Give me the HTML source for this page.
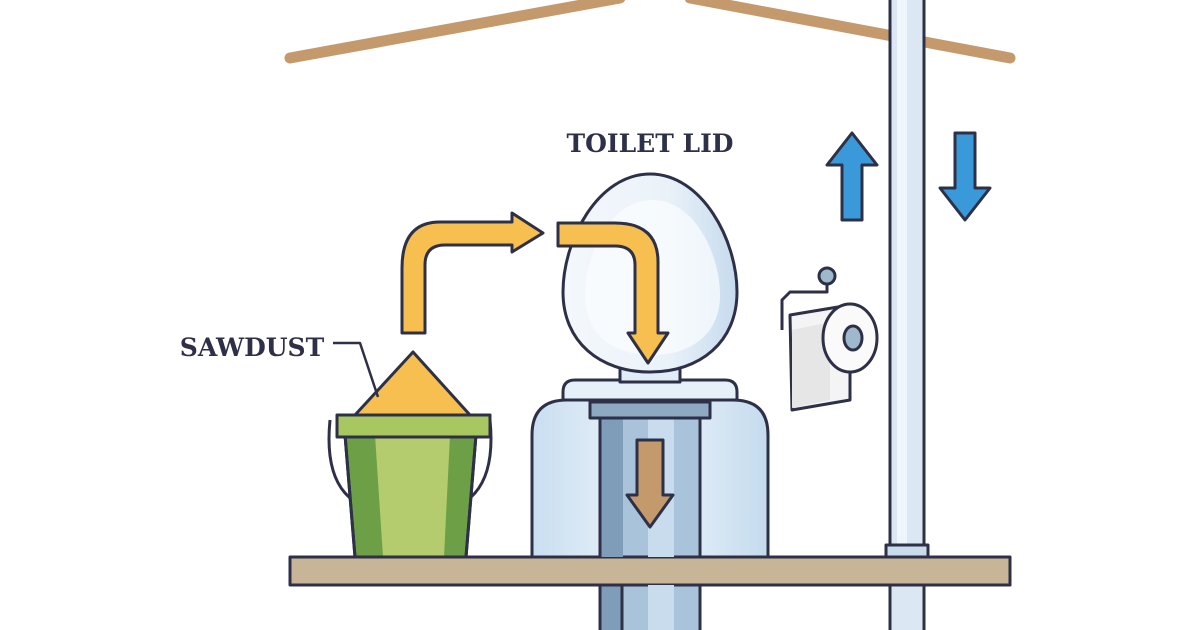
<!DOCTYPE html>
<html><head><style>body{margin:0;background:#fff}svg{display:block}</style></head><body>
<svg width="1200" height="630" viewBox="0 0 1200 630" xmlns="http://www.w3.org/2000/svg">
<defs>
<linearGradient id="ice" x1="0" x2="1"><stop offset="0" stop-color="#c9def0"/><stop offset="0.5" stop-color="#eef5fb"/><stop offset="1" stop-color="#c4dbee"/></linearGradient>
<linearGradient id="lid" x1="0" x2="1"><stop offset="0" stop-color="#f4f8fc"/><stop offset="0.6" stop-color="#eaf2f9"/><stop offset="1" stop-color="#c6dbee"/></linearGradient>
</defs>
<g stroke-linecap="round" stroke="#c49a6c" stroke-width="11" fill="none">
<line x1="290" y1="58" x2="620" y2="-2"/><line x1="690" y1="-2" x2="1010" y2="58"/>
</g>
<g stroke="#2d3047" stroke-width="3" stroke-linejoin="round">
<rect x="890" y="-10" width="34" height="560" fill="#dbe8f3"/>
<rect x="897" y="-10" width="10" height="560" fill="#eef5fb" stroke="none"/>
<rect x="886" y="545" width="42" height="14" fill="#c9dcec"/>
<rect x="890" y="585" width="34" height="50" fill="#dbe8f3"/>
<rect x="290" y="557" width="720" height="28" fill="#c8b597"/>
<path d="M852 133 L877 165 L862 165 L862 220 L842 220 L842 165 L827 165 Z" fill="#3a9ad9"/>
<path d="M965 220 L990 188 L975 188 L975 133 L955 133 L955 188 L940 188 Z" fill="#3a9ad9"/>
<circle cx="827" cy="276" r="8" fill="#9fb8cc"/>
<path d="M827 284 L827 292 L790 292 L782 300 L782 330" fill="none"/>
<path d="M790 315 L850 305 L850 400 L792 410 Z" fill="#f4f4f4"/>
<path d="M792 330 L830 322 L830 400 L792 408 Z" fill="#e6e6e6" stroke="none"/>
<ellipse cx="850" cy="338" rx="27" ry="34" fill="#fafafa"/>
<ellipse cx="853" cy="338" rx="9" ry="12" fill="#9fb8cc"/>
<rect x="600" y="585" width="100" height="50" fill="#a9c3da"/>
<rect x="600" y="585" width="22" height="50" fill="#7f9db8"/>
<rect x="648" y="585" width="26" height="50" fill="#c8dcee" stroke="none"/>
<path d="M532 557 L532 435 Q532 400 567 400 L733 400 Q768 400 768 435 L768 557 Z" fill="url(#ice)"/>
<path d="M563 400 L563 392 Q563 380 575 380 L725 380 Q737 380 737 392 L737 400 Z" fill="#e6f0f8"/>
<rect x="600" y="418" width="100" height="139" fill="#a9c3da"/>
<rect x="600" y="418" width="23" height="139" fill="#7f9db8" stroke="none"/>
<rect x="648" y="418" width="26" height="139" fill="#c8dcee" stroke="none"/>
<line x1="600" y1="418" x2="600" y2="557"/><line x1="700" y1="418" x2="700" y2="557"/>
<rect x="590" y="402" width="120" height="16" fill="#8eaac3"/>
<path d="M650 527 L673 495 L663 495 L663 440 L637 440 L637 495 L627 495 Z" fill="#c49a6c"/>
<rect x="620" y="362" width="60" height="20" fill="#e0ecf6"/>
<path d="M650 174 C702 174 737 240 737 292 C737 342 700 372 650 372 C600 372 563 342 563 292 C563 240 598 174 650 174 Z" fill="url(#lid)"/>
<path d="M652 200 C695 200 720 255 720 295 C720 335 690 355 652 355 C614 355 585 335 585 295 C585 255 610 200 652 200 Z" fill="#fbfdff" stroke="none" opacity="0.7"/>
<path d="M402 333 L402 268 Q402 222 440 222 L512 222 L512 213 L543 233 L512 252 L512 245 L445 245 Q425 245 425 265 L425 333 Z" fill="#f6bf4f"/>
<path d="M558 223 L615 223 Q658 223 658 262 L658 333 L668 333 L648 363 L628 333 L635 333 L635 265 Q635 246 615 246 L558 246 Z" fill="#f6bf4f"/>
<path d="M355 415 L413 352 L470 415 Z" fill="#f6bf4f"/>
<path d="M330 420 Q320 520 410 512 Q500 520 490 420" fill="none"/>
<path d="M345 435 L476 435 L466 557 L355 557 Z" fill="#6da046"/>
<path d="M375 435 L450 435 L444 557 L383 557 Z" fill="#b4cc6e" stroke="none"/>
<path d="M345 435 L476 435 L466 557 L355 557 Z" fill="none"/>
<rect x="337" y="415" width="153" height="22" fill="#a9c760"/>
<path d="M333 343 L360 343 L378 397" fill="none" stroke-width="2.5"/>
</g>
<g font-family="'DejaVu Serif','Liberation Serif',serif" font-weight="bold" fill="#2d3047" font-size="25">
<text x="650" y="152" text-anchor="middle">TOILET LID</text>
<text x="252" y="356" text-anchor="middle">SAWDUST</text>
</g>
</svg>
</body></html>
